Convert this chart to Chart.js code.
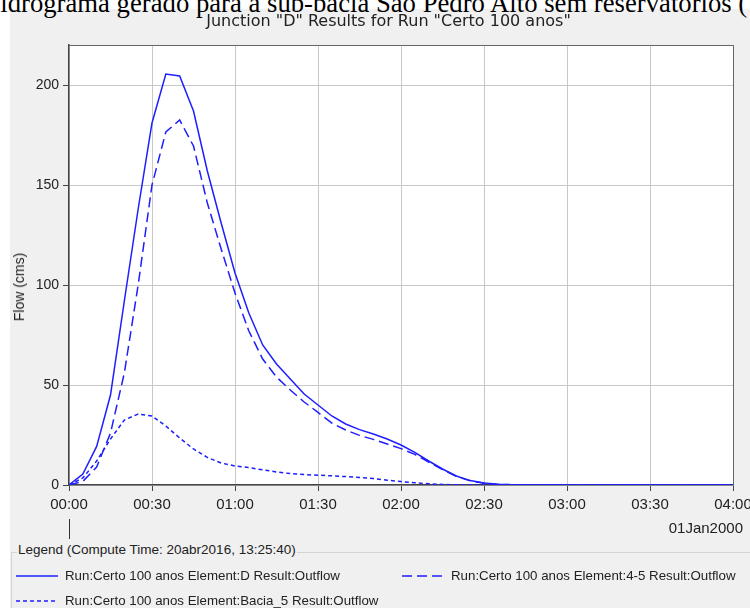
<!DOCTYPE html>
<html>
<head>
<meta charset="utf-8">
<script src="https://cdn.jsdelivr.net/npm/chart.js"></script>
<style>
body{margin:0;width:750px;height:608px;overflow:hidden;position:relative;background:#fff;font-family:"Liberation Sans",Arial,sans-serif;color:#222;}
#painel{position:absolute;left:10px;top:9px;width:740px;height:599px;background:#f0f0f0;}
#topo{position:absolute;top:-9px;left:-19px;font-family:"Liberation Serif","Times New Roman",serif;font-size:26.7px;line-height:24px;white-space:nowrap;color:#000;}
#grafico{position:absolute;left:0;top:0;}
#titulo{position:absolute;left:0;width:777px;top:12px;text-align:center;font-family:"DejaVu Sans",sans-serif;font-size:16px;line-height:18px;}
#eixoy{position:absolute;left:19px;top:287px;transform:translate(-50%,-50%) rotate(-90deg);font-size:14px;white-space:nowrap;}
#data{position:absolute;right:7px;top:519px;font-size:15px;line-height:18px;}
#caixa{position:absolute;left:11px;top:552px;width:739px;height:56px;border-top:1px solid #d4d4d4;border-left:1px solid #d4d4d4;}
#caixa_titulo{position:absolute;left:17px;top:542px;font-size:13.5px;line-height:16px;background:#f0f0f0;padding:0 1px;}
#legenda{position:absolute;left:16px;top:568px;display:grid;grid-template-columns:386px 340px;row-gap:9px;font-size:13.3px;line-height:16px;}
.item{display:flex;align-items:center;white-space:nowrap;}
.item svg{margin-right:7px;}
</style>
</head>
<body>
<div id="painel"></div>
<div id="topo">Hidrograma gerado para a sub-bacia São Pedro Alto sem reservatórios (</div>
<canvas id="grafico" width="780" height="608"></canvas>
<div id="titulo">Junction "D" Results for Run "Certo 100 anos"</div>
<div id="eixoy">Flow (cms)</div>
<div id="data">01Jan2000</div>
<div id="caixa"></div>
<div id="caixa_titulo">Legend (Compute Time: 20abr2016, 13:25:40)</div>
<div id="legenda"></div>
<script>
// minutos desde 00:00
const minutos=[0,5,10,15,20,25,30,35,40,45,50,55,60,65,70,75,80,85,90,95,100,105,110,115,120,
  125,130,135,140,145,150,155,160,165,170,175,180,185,190,195,200,205,210,215,220,225,230,235,240];

// Junction D
const vazao_d=[0,5.5,19.3,45,92,138,181,205.5,204.5,187,157,131,106,86,70,60.5,53,45.5,40,34.5,30.5,27.7,25.5,23,20,
  16.3,12,8,4.5,2.2,1,0.4,0.1,0,0,0,0,0,0,0,0,0,0,0,0,0,0,0,0];
// Element 4-5
const vazao_45=[0,1.8,9,26,56,100,150,176.5,182.5,169.5,141,118,96,77,63,54,47.5,41.5,36.3,31,27.5,24.8,22.8,20.5,18.2,
  15.3,11.5,7.7,4.3,2.1,0.9,0.3,0.1,0,0,0,0,0,0,0,0,0,0,0,0,0,0,0,0];
// Bacia_5
const vazao_b5=[0,3.5,12,23,32.5,35.5,34.5,29.5,23.5,18,13.8,11,9.5,8.7,7.6,6.5,5.7,5.2,4.9,4.6,4.2,3.8,3.2,2.4,1.7,
  1.1,0.6,0.3,0.1,0,0,0,0,0,0,0,0,0,0,0,0,0,0,0,0,0,0,0,0];

const nomes=['Run:Certo 100 anos Element:D Result:Outflow',
             'Run:Certo 100 anos Element:4-5 Result:Outflow',
             'Run:Certo 100 anos Element:Bacia_5 Result:Outflow'];
const tracos=[[],[10,5],[4,3]];
const azul='rgb(30,30,255)';

function pontos(v){ return minutos.map((m,i)=>({x:m,y:v[i]})) }

function hora(m){
  const h=Math.floor(m/60), mm=m%60;
  return String(h).padStart(2,'0')+':'+String(mm).padStart(2,'0');
}

const moldura={
  id:'moldura',
  beforeDraw(chart){
    const {ctx,chartArea:a}=chart;
    ctx.save();
    ctx.fillStyle='#fff';
    ctx.fillRect(a.left,a.top,a.right-a.left,a.bottom-a.top);
    ctx.restore();
  },
  afterDraw(chart){
    const {ctx,chartArea:a}=chart;
    ctx.save();
    ctx.strokeStyle='#666';
    ctx.lineWidth=1;
    ctx.beginPath();
    ctx.moveTo(a.left,a.top+0.5); ctx.lineTo(a.right+0.5,a.top+0.5); ctx.lineTo(a.right+0.5,a.bottom);
    ctx.stroke();
    // marca do dia
    const x0=Math.round(chart.scales.x.getPixelForValue(0))+0.5;
    ctx.strokeStyle='#333';
    ctx.beginPath(); ctx.moveTo(x0,519); ctx.lineTo(x0,539); ctx.stroke();
    ctx.restore();
  }
};

Chart.defaults.font.family='"Liberation Sans", Arial, sans-serif';
Chart.defaults.color='#222';

const conjuntos=[vazao_d,vazao_45,vazao_b5].map((v,i)=>({
  label:nomes[i],
  data:pontos(v),
  borderColor:azul,
  borderWidth:1.5,
  borderDash:tracos[i],
  pointRadius:0,
  tension:0,
  fill:false
}));

const grafico=new Chart(document.getElementById('grafico'),{
  type:'line',
  data:{datasets:conjuntos},
  options:{
    responsive:false,
    animation:false,
    layout:{padding:{left:0,top:45,right:47,bottom:0}},
    plugins:{legend:{display:false},tooltip:{enabled:false}},
    scales:{
      x:{
        type:'linear',min:0,max:240,
        ticks:{stepSize:30,callback:v=>hora(v),font:{size:15},padding:5,maxRotation:0,autoSkip:false},
        grid:{color:'#c8c8c8',tickColor:'#444',tickLength:6},
        border:{color:'#444',width:1.5},
        afterFit(s){ s.height=123 }
      },
      y:{
        min:0,max:220,
        ticks:{stepSize:50,font:{size:14},padding:4},
        grid:{color:'#c8c8c8',tickColor:'#444',tickLength:6},
        border:{color:'#444',width:1.5},
        afterBuildTicks(s){ s.ticks=s.ticks.filter(t=>t.value%50===0) },
        afterFit(s){ s.width=69 }
      }
    }
  },
  plugins:[moldura]
});

// legenda feita a partir dos conjuntos
const ordem=[0,1,2];
const leg=document.getElementById('legenda');
ordem.forEach(i=>{
  const c=grafico.data.datasets[i];
  const d=document.createElement('div');
  d.className='item';
  d.innerHTML='<svg width="42" height="4"><line x1="0" y1="2" x2="42" y2="2" stroke="'+c.borderColor+
    '" stroke-width="1.5" stroke-dasharray="'+(c.borderDash.length?c.borderDash.join(','):'none')+'"/></svg><span>'+c.label+'</span>';
  leg.appendChild(d);
});
</script>
</body>
</html>
